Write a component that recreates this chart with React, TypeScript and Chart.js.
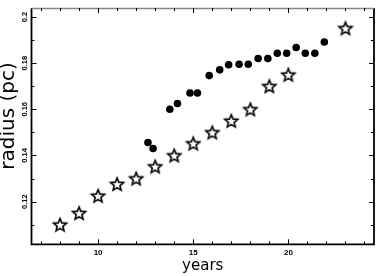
import React, { useEffect, useRef } from "react";
import { Chart, registerables } from "chart.js";

Chart.register(...registerables);

// Filled circles
const dotYears = [12.62, 12.89, 13.77, 14.17, 14.83, 15.22, 15.84, 16.39, 16.86, 17.41, 17.89, 18.41, 18.92, 19.42, 19.91, 20.41, 20.89, 21.39, 21.89];
const dotRadius = [0.1456, 0.143, 0.160, 0.1625, 0.1671, 0.1671, 0.1746, 0.1771, 0.1793, 0.1795, 0.1795, 0.182, 0.182, 0.1843, 0.1843, 0.1868, 0.1843, 0.1843, 0.1892];

// Open stars
const starYears = [8, 9, 10, 11, 12, 13, 14, 15, 16, 17, 18, 19, 20, 23];
const starRadius = [0.110, 0.115, 0.1225, 0.1276, 0.130, 0.1352, 0.140, 0.1452, 0.150, 0.155, 0.160, 0.170, 0.175, 0.1951];

const xTickLabels = [10, 15, 20];
const xMinorTicks = [7, 8, 9, 11, 12, 13, 14, 16, 17, 18, 19, 21, 22, 23, 24];
const yTickLabels = [0.12, 0.14, 0.16, 0.18, 0.2];
const yMinorTicks = [0.11, 0.13, 0.15, 0.17, 0.19];

const xTitle = "years";
const yTitle = "radius (pc)";

function makeStar(): HTMLCanvasElement {
  const size = 18;
  const c = document.createElement("canvas");
  c.width = size;
  c.height = size;
  const ctx = c.getContext("2d")!;
  const R = 6.8;
  const r = 3.0;
  const cx = size / 2;
  const cy = size / 2 + 0.6;
  ctx.beginPath();
  for (let i = 0; i < 10; i++) {
    const rad = i % 2 === 0 ? R : r;
    const a = -Math.PI / 2 + (i * Math.PI) / 5;
    const px = cx + rad * Math.cos(a);
    const py = cy + rad * Math.sin(a);
    if (i === 0) ctx.moveTo(px, py);
    else ctx.lineTo(px, py);
  }
  ctx.closePath();
  ctx.fillStyle = "#ffffff";
  ctx.fill();
  ctx.lineWidth = 1.6;
  ctx.lineJoin = "miter";
  ctx.strokeStyle = "#000000";
  ctx.stroke();
  return c;
}

const axisDecor = {
  id: "axisDecor",
  afterDraw(chart: any) {
    const ctx = chart.ctx as CanvasRenderingContext2D;
    const { left, right, top, bottom } = chart.chartArea;
    const xs = chart.scales.x;
    const ys = chart.scales.y;
    ctx.save();
    // frame
    ctx.strokeStyle = "#000";
    ctx.lineWidth = 1.8;
    ctx.beginPath();
    ctx.moveTo(left, top);
    ctx.lineTo(left, bottom);
    ctx.lineTo(right, bottom);
    ctx.lineTo(right, top);
    ctx.stroke();
    ctx.strokeStyle = "#888";
    ctx.lineWidth = 1.5;
    ctx.beginPath();
    ctx.moveTo(left, top + 0.5);
    ctx.lineTo(right, top + 0.5);
    ctx.stroke();

    ctx.strokeStyle = "#000";
    ctx.lineWidth = 1;
    const major = 5;
    const minor = 3;
    const xTick = (v: number, len: number) => {
      const p = Math.round(xs.getPixelForValue(v)) + 0.5;
      ctx.beginPath();
      ctx.moveTo(p, bottom);
      ctx.lineTo(p, bottom - len);
      ctx.moveTo(p, top);
      ctx.lineTo(p, top + len);
      ctx.stroke();
    };
    const yTick = (v: number, len: number) => {
      const p = Math.round(ys.getPixelForValue(v)) + 0.5;
      ctx.beginPath();
      ctx.moveTo(left, p);
      ctx.lineTo(left + len, p);
      ctx.moveTo(right, p);
      ctx.lineTo(right - len, p);
      ctx.stroke();
    };
    xTickLabels.forEach((v) => xTick(v, major));
    xMinorTicks.forEach((v) => xTick(v, minor));
    yTickLabels.forEach((v) => yTick(v, major));
    yMinorTicks.forEach((v) => yTick(v, minor));

    // tick labels
    ctx.fillStyle = "#000";
    ctx.font = "bold 8px 'Liberation Sans', Arial, sans-serif";
    ctx.textAlign = "center";
    ctx.textBaseline = "alphabetic";
    xTickLabels.forEach((v) => {
      ctx.fillText(String(v), xs.getPixelForValue(v), 255);
    });
    ctx.font = "bold 7.5px 'Liberation Sans', Arial, sans-serif";
    yTickLabels.forEach((v) => {
      ctx.save();
      ctx.translate(26.5, ys.getPixelForValue(v));
      ctx.rotate(-Math.PI / 2);
      ctx.fillText(String(v), 0, 0);
      ctx.restore();
    });

    // axis titles
    ctx.font = "15px 'DejaVu Sans', sans-serif";
    ctx.fillText(xTitle, (left + right) / 2, 270);
    ctx.save();
    ctx.font = "20px 'DejaVu Sans', sans-serif";
    ctx.translate(14, 116);
    ctx.rotate(-Math.PI / 2);
    ctx.fillText(yTitle, 0, 0);
    ctx.restore();
    ctx.restore();
  },
};

export default function App() {
  const ref = useRef<HTMLCanvasElement | null>(null);
  useEffect(() => {
    document.body.style.margin = "0";
    const star = makeStar();
    const chart = new Chart(ref.current!, {
      type: "scatter",
      data: {
        datasets: [
          {
            label: "dots",
            data: dotYears.map((x, i) => ({ x, y: dotRadius[i] })),
            pointStyle: "circle",
            pointRadius: 3.8,
            backgroundColor: "#000",
            borderColor: "#000",
            borderWidth: 0,
          },
          {
            label: "stars",
            data: starYears.map((x, i) => ({ x, y: starRadius[i] })),
            pointStyle: star as any,
            pointRadius: 7,
            backgroundColor: "#fff",
            borderColor: "#000",
          },
        ],
      },
      options: {
        responsive: false,
        animation: false,
        layout: { padding: { left: 31.5, right: 1.5, top: 0, bottom: 31.7 } },
        plugins: { legend: { display: false }, tooltip: { enabled: false } },
        scales: {
          x: { type: "linear", min: 6.5, max: 24.5, display: false },
          y: { type: "linear", min: 0.10151, max: 0.2039, display: false },
        },
      },
      plugins: [axisDecor],
    });
    return () => chart.destroy();
  }, []);
  return (
    <div style={{ position: "absolute", left: 0, top: 0, width: 382, height: 276, background: "#fff" }}>
      <canvas ref={ref} width={382} height={276} style={{ display: "block" }} />
    </div>
  );
}
